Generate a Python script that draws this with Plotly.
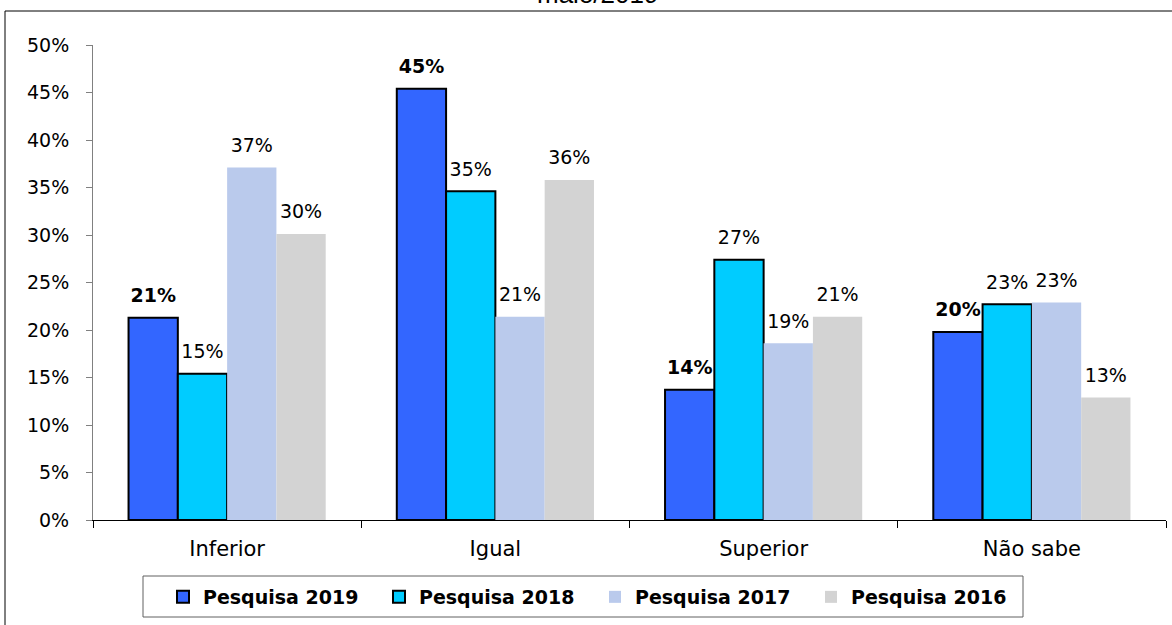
import plotly.graph_objects as go

categories = ["Inferior", "Igual", "Superior", "Não sabe"]
series_names = ["Pesquisa 2019", "Pesquisa 2018", "Pesquisa 2017", "Pesquisa 2016"]
v2019 = [0.213, 0.454, 0.137, 0.198]
v2018 = [0.154, 0.346, 0.274, 0.227]
v2017 = [0.371, 0.214, 0.186, 0.229]
v2016 = [0.301, 0.358, 0.214, 0.129]
y_ticks = [0, 0.05, 0.10, 0.15, 0.20, 0.25, 0.30, 0.35, 0.40, 0.45, 0.50]
title_text = "maio/2019"

values = [v2019, v2018, v2017, v2016]
colors = ["#3366FF", "#00CCFF", "#BACAEC", "#D3D3D3"]
line_w = [2, 2, 0, 0]
bold = [True, False, False, False]

FONT = "DejaVu Sans"
W, H = 1172, 625
L, R, T, B = 93, 6, 45, 105
pw, ph = W - L - R, H - T - B


def px_x(p):
    return (p - L) / pw


def px_y(p):
    return (H - B - p) / ph


fig = go.Figure()
for k, (name, vals, c, lw) in enumerate(zip(series_names, values, colors, line_w)):
    fig.add_trace(go.Bar(
        name=name, x=categories, y=vals, offsetgroup=str(k),
        marker=dict(color=c, line=dict(color="black", width=lw)),
        hoverinfo="skip",
    ))
for k, (name, vals, b) in enumerate(zip(series_names, values, bold)):
    fig.add_trace(go.Scatter(
        x=categories, y=vals, mode="markers+text", offsetgroup=str(k),
        marker=dict(size=16, opacity=0),
        texttemplate="%{y:.0%}", textposition="top center",
        textfont=dict(family=FONT, size=19, color="black", weight="bold" if b else "normal"),
        showlegend=False, cliponaxis=False, hoverinfo="skip",
    ))

fig.update_layout(
    width=W, height=H,
    margin=dict(l=L, r=R, t=T, b=B, autoexpand=False),
    paper_bgcolor="white", plot_bgcolor="white",
    barmode="group", bargap=0.265, bargroupgap=0,
    scattermode="group", scattergap=0.265,
    font=dict(family=FONT, size=18, color="black"),
    showlegend=True,
    legend=dict(
        orientation="h", xref="container", x=163 / W, xanchor="left",
        yref="container", y=1 - 597 / H, yanchor="middle",
        borderwidth=0, bgcolor="rgba(0,0,0,0)",
        font=dict(family=FONT, size=19, color="black", weight="bold"),
        entrywidth=171, entrywidthmode="pixels",
        itemclick=False, itemdoubleclick=False,
    ),
    xaxis=dict(
        showline=True, linecolor="black", linewidth=1,
        ticks="outside", tickson="boundaries", ticklen=7, tickcolor="black",
        tickfont=dict(family=FONT, size=21, color="black"),
        ticklabelstandoff=10, showgrid=False,
    ),
    yaxis=dict(
        range=[0, 0.5], tickvals=y_ticks, tickformat=".0%",
        showline=True, linecolor="#808080", linewidth=1,
        ticks="outside", ticklen=6, tickcolor="#808080",
        tickfont=dict(family=FONT, size=19, color="black"),
        ticklabelstandoff=13, showgrid=False, zeroline=False,
    ),
    shapes=[
        dict(type="rect", xref="paper", yref="paper",
             x0=px_x(5), x1=px_x(1200), y0=px_y(660), y1=px_y(11),
             line=dict(color="black", width=1), fillcolor="rgba(0,0,0,0)", layer="below"),
        dict(type="rect", xref="paper", yref="paper",
             x0=px_x(143), x1=px_x(1023), y0=px_y(617), y1=px_y(576),
             line=dict(color="#606060", width=1), fillcolor="white", layer="below"),
    ],
    annotations=[dict(
        text=title_text, xref="paper", yref="paper",
        x=px_x(597), y=px_y(11), xanchor="center", yanchor="bottom",
        showarrow=False, font=dict(family="Liberation Sans", size=26, color="black"),
    )],
)

fig.write_html("out.html", config={"displayModeBar": False},
               post_script="document.body.style.margin='0';")
